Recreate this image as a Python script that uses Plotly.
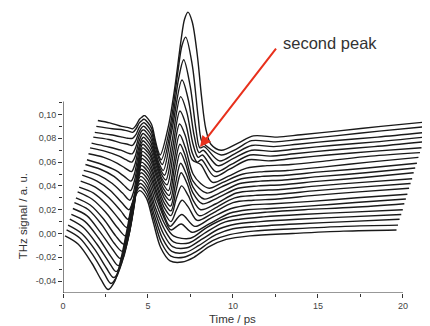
import plotly.graph_objects as go

# ---- data: THz waveforms (time in ps, signal in a.u.) ----
PULSE_TIMES = [
    [0.12, 0.9, 1.7, 2.25, 2.65, 3.05, 3.4, 3.75, 4.1, 4.5, 4.9, 5.3, 5.75, 6.3, 7.0, 7.7, 8.6, 9.6, 11.0, 13.5, 16.5, 19.62],
    [0.21, 1.0, 1.8, 2.4, 2.82, 3.2, 3.52, 3.85, 4.17, 4.52, 4.92, 5.33, 5.8, 6.35, 7.1, 7.85, 8.8, 9.8, 11.2, 13.6, 16.6, 19.71],
    [0.30, 1.1, 1.9, 2.55, 2.98, 3.33, 3.63, 3.94, 4.23, 4.53, 4.94, 5.36, 5.85, 6.4, 7.2, 8.0, 9.0, 10.0, 11.4, 13.7, 16.7, 19.80],
    [0.40, 1.2, 2.0, 2.7, 3.12, 3.45, 3.74, 4.02, 4.29, 4.55, 4.96, 5.4, 5.9, 6.45, 7.3, 8.15, 9.2, 10.2, 11.6, 13.8, 16.8, 19.90],
    [0.49, 1.3, 2.1, 2.8, 3.25, 3.56, 3.83, 4.09, 4.33, 4.56, 4.98, 5.43, 5.95, 6.5, 7.4, 8.3, 9.4, 10.4, 11.8, 14.0, 17.0, 19.99],
    [0.58, 1.4, 2.2, 2.9, 3.37, 3.66, 3.92, 4.16, 4.38, 4.58, 5.0, 5.46, 5.98, 6.5, 7.5, 8.45, 9.6, 10.6, 12.0, 14.2, 17.1, 20.08],
    [0.67, 1.5, 2.3, 3.0, 3.48, 3.76, 4.0, 4.23, 4.42, 4.59, 5.02, 5.48, 5.98, 6.35, 6.95, 7.6, 8.6, 9.8, 10.9, 12.2, 14.4, 17.2, 20.17],
    [0.76, 1.6, 2.4, 3.1, 3.58, 3.85, 4.08, 4.3, 4.47, 4.61, 5.04, 5.5, 5.95, 6.3, 6.98, 7.75, 8.7, 9.9, 11.0, 12.4, 14.6, 17.3, 20.26],
    [0.86, 1.7, 2.5, 3.2, 3.67, 3.93, 4.15, 4.35, 4.5, 4.62, 5.05, 5.5, 5.95, 6.35, 6.68, 7.0, 7.38, 7.9, 8.8, 10.0, 11.2, 12.6, 14.8, 17.4, 20.36],
    [0.95, 1.8, 2.6, 3.3, 3.75, 4.0, 4.21, 4.4, 4.54, 4.64, 5.07, 5.5, 5.95, 6.35, 6.68, 6.98, 7.36, 8.0, 8.9, 10.1, 11.3, 12.7, 14.9, 17.5, 20.45],
    [1.04, 1.9, 2.7, 3.4, 3.82, 4.06, 4.26, 4.44, 4.57, 4.65, 5.08, 5.5, 5.95, 6.35, 6.65, 6.95, 7.3, 7.65, 8.1, 9.0, 10.2, 11.4, 12.8, 15.0, 17.6, 20.54],
    [1.13, 2.0, 2.8, 3.45, 3.88, 4.11, 4.3, 4.47, 4.59, 4.67, 5.1, 5.5, 5.95, 6.33, 6.62, 6.92, 7.25, 7.65, 8.2, 9.1, 10.3, 11.5, 12.9, 15.1, 17.7, 20.63],
    [1.22, 2.1, 2.9, 3.5, 3.93, 4.15, 4.34, 4.5, 4.61, 4.68, 5.1, 5.5, 5.92, 6.3, 6.6, 6.9, 7.22, 7.65, 8.3, 9.2, 10.4, 11.6, 13.0, 15.2, 17.8, 20.72],
    [1.32, 2.2, 3.0, 3.55, 3.97, 4.18, 4.37, 4.53, 4.63, 4.70, 5.12, 5.5, 5.9, 6.25, 6.55, 6.88, 7.2, 7.65, 8.45, 9.3, 10.5, 11.7, 13.1, 15.3, 17.9, 20.82],
    [1.41, 2.3, 3.1, 3.6, 4.0, 4.2, 4.39, 4.55, 4.65, 4.71, 5.13, 5.5, 5.88, 6.2, 6.52, 6.86, 7.2, 7.65, 8.1, 8.6, 9.4, 10.6, 11.8, 13.2, 15.4, 18.0, 20.91],
    [1.50, 2.4, 3.2, 3.65, 4.03, 4.23, 4.42, 4.58, 4.67, 4.73, 5.14, 5.5, 5.82, 6.12, 6.48, 6.86, 7.2, 7.6, 8.1, 8.8, 9.7, 10.8, 12.0, 13.4, 15.5, 18.1, 21.00],
    [1.59, 2.5, 3.3, 3.7, 4.05, 4.25, 4.44, 4.6, 4.69, 4.74, 5.15, 5.48, 5.78, 6.05, 6.45, 6.88, 7.22, 7.6, 7.9, 8.15, 8.9, 9.8, 10.9, 12.1, 13.5, 15.6, 18.2, 21.09],
    [1.68, 2.6, 3.4, 3.75, 4.07, 4.27, 4.46, 4.62, 4.71, 4.76, 5.16, 5.46, 5.73, 5.98, 6.42, 6.92, 7.28, 7.65, 7.95, 8.2, 9.0, 9.9, 11.0, 12.2, 13.6, 15.7, 18.3, 21.18],
    [1.78, 2.7, 3.45, 3.8, 4.08, 4.28, 4.47, 4.63, 4.72, 4.77, 5.17, 5.45, 5.68, 5.9, 6.4, 7.0, 7.38, 7.72, 8.0, 8.25, 9.1, 10.0, 11.1, 12.3, 13.7, 15.8, 18.4, 21.28],
    [1.87, 2.8, 3.5, 3.82, 4.09, 4.29, 4.48, 4.64, 4.73, 4.79, 5.18, 5.44, 5.64, 5.84, 6.4, 6.8, 7.1, 7.48, 7.82, 8.05, 8.3, 9.2, 10.1, 11.1, 12.4, 13.8, 15.9, 18.5, 21.37],
    [1.96, 2.9, 3.55, 3.85, 4.10, 4.3, 4.49, 4.65, 4.74, 4.80, 5.19, 5.43, 5.6, 5.78, 6.3, 6.75, 7.0, 7.22, 7.6, 7.95, 8.15, 8.4, 9.3, 10.2, 11.1, 12.5, 13.9, 16.0, 18.6, 21.46],
    [2.05, 2.75, 3.45, 3.85, 4.10, 4.3, 4.5, 4.66, 4.76, 4.82, 5.2, 5.42, 5.58, 5.72, 6.2, 6.6, 6.95, 7.15, 7.35, 7.6, 7.9, 8.15, 8.4, 8.7, 9.3, 10.3, 11.2, 12.6, 14.0, 16.1, 18.7, 21.55],
]

PULSE_SIGNALS = [
    [-0.002, -0.009, -0.025, -0.039, -0.047, -0.040, -0.022, 0.002, 0.026, 0.036, 0.030, 0.010, -0.012, -0.023, -0.024, -0.020, -0.011, -0.005, -0.002, 0.000, 0.002, 0.003],
    [0.003, -0.004, -0.019, -0.033, -0.042, -0.035, -0.017, 0.007, 0.029, 0.039, 0.033, 0.013, -0.008, -0.019, -0.020, -0.015, -0.006, -0.001, 0.002, 0.004, 0.006, 0.007],
    [0.007, 0.000, -0.014, -0.029, -0.037, -0.030, -0.012, 0.012, 0.033, 0.042, 0.036, 0.016, -0.004, -0.015, -0.016, -0.010, -0.001, 0.004, 0.006, 0.008, 0.010, 0.012],
    [0.012, 0.005, -0.009, -0.024, -0.032, -0.025, -0.007, 0.016, 0.036, 0.045, 0.039, 0.019, 0.000, -0.011, -0.012, -0.005, 0.004, 0.008, 0.010, 0.012, 0.014, 0.016],
    [0.016, 0.010, -0.004, -0.019, -0.027, -0.020, -0.003, 0.019, 0.039, 0.048, 0.042, 0.022, 0.004, -0.007, -0.008, 0.000, 0.009, 0.012, 0.014, 0.016, 0.018, 0.020],
    [0.021, 0.015, 0.001, -0.013, -0.021, -0.014, 0.002, 0.024, 0.043, 0.051, 0.045, 0.026, 0.008, -0.002, -0.004, 0.005, 0.013, 0.016, 0.018, 0.020, 0.022, 0.025],
    [0.026, 0.020, 0.007, -0.008, -0.015, -0.008, 0.008, 0.030, 0.047, 0.054, 0.048, 0.030, 0.012, 0.003, 0.008, 0.001, 0.008, 0.017, 0.020, 0.021, 0.023, 0.026, 0.029],
    [0.030, 0.024, 0.012, -0.002, -0.009, -0.002, 0.014, 0.035, 0.051, 0.057, 0.051, 0.033, 0.015, 0.006, 0.016, 0.006, 0.013, 0.021, 0.024, 0.025, 0.027, 0.030, 0.033],
    [0.035, 0.029, 0.018, 0.005, -0.002, 0.005, 0.020, 0.040, 0.054, 0.060, 0.054, 0.036, 0.018, 0.010, 0.020, 0.028, 0.022, 0.011, 0.017, 0.026, 0.028, 0.029, 0.032, 0.035, 0.038],
    [0.039, 0.034, 0.024, 0.012, 0.005, 0.012, 0.027, 0.046, 0.058, 0.063, 0.057, 0.040, 0.022, 0.015, 0.030, 0.040, 0.032, 0.015, 0.021, 0.030, 0.032, 0.033, 0.036, 0.039, 0.042],
    [0.044, 0.039, 0.030, 0.019, 0.012, 0.019, 0.034, 0.052, 0.062, 0.066, 0.060, 0.043, 0.026, 0.019, 0.036, 0.051, 0.042, 0.028, 0.020, 0.025, 0.034, 0.036, 0.037, 0.040, 0.043, 0.046],
    [0.049, 0.044, 0.036, 0.026, 0.020, 0.027, 0.041, 0.058, 0.066, 0.069, 0.063, 0.047, 0.030, 0.023, 0.042, 0.059, 0.050, 0.034, 0.025, 0.030, 0.038, 0.040, 0.041, 0.044, 0.047, 0.051],
    [0.053, 0.049, 0.042, 0.034, 0.028, 0.035, 0.049, 0.064, 0.070, 0.072, 0.066, 0.050, 0.034, 0.028, 0.050, 0.068, 0.058, 0.039, 0.029, 0.034, 0.042, 0.044, 0.045, 0.048, 0.051, 0.055],
    [0.058, 0.054, 0.048, 0.041, 0.036, 0.043, 0.056, 0.069, 0.074, 0.075, 0.068, 0.053, 0.038, 0.032, 0.055, 0.075, 0.065, 0.044, 0.034, 0.039, 0.046, 0.048, 0.049, 0.052, 0.055, 0.059],
    [0.062, 0.058, 0.053, 0.048, 0.044, 0.050, 0.063, 0.074, 0.077, 0.078, 0.071, 0.056, 0.042, 0.036, 0.060, 0.083, 0.072, 0.050, 0.042, 0.038, 0.043, 0.050, 0.052, 0.053, 0.056, 0.060, 0.064],
    [0.067, 0.064, 0.059, 0.055, 0.052, 0.058, 0.070, 0.078, 0.080, 0.081, 0.074, 0.059, 0.046, 0.041, 0.066, 0.092, 0.082, 0.062, 0.058, 0.043, 0.048, 0.055, 0.057, 0.058, 0.061, 0.065, 0.068],
    [0.072, 0.069, 0.065, 0.062, 0.060, 0.065, 0.076, 0.082, 0.084, 0.084, 0.077, 0.062, 0.050, 0.045, 0.072, 0.103, 0.092, 0.068, 0.060, 0.062, 0.048, 0.054, 0.062, 0.061, 0.063, 0.066, 0.069, 0.072],
    [0.076, 0.073, 0.070, 0.068, 0.067, 0.072, 0.081, 0.086, 0.087, 0.087, 0.080, 0.065, 0.054, 0.049, 0.078, 0.115, 0.102, 0.075, 0.064, 0.066, 0.052, 0.058, 0.066, 0.065, 0.067, 0.070, 0.073, 0.077],
    [0.081, 0.079, 0.076, 0.075, 0.074, 0.078, 0.085, 0.089, 0.090, 0.090, 0.083, 0.068, 0.058, 0.053, 0.086, 0.129, 0.112, 0.082, 0.068, 0.070, 0.057, 0.063, 0.070, 0.069, 0.071, 0.074, 0.077, 0.081],
    [0.085, 0.083, 0.081, 0.080, 0.080, 0.083, 0.089, 0.092, 0.093, 0.093, 0.086, 0.072, 0.063, 0.058, 0.092, 0.130, 0.146, 0.124, 0.088, 0.072, 0.073, 0.061, 0.067, 0.074, 0.073, 0.075, 0.078, 0.081, 0.085],
    [0.090, 0.088, 0.087, 0.086, 0.085, 0.088, 0.093, 0.095, 0.096, 0.096, 0.089, 0.076, 0.067, 0.062, 0.090, 0.135, 0.158, 0.165, 0.142, 0.098, 0.078, 0.074, 0.066, 0.071, 0.078, 0.077, 0.079, 0.082, 0.086, 0.090],
    [0.095, 0.093, 0.090, 0.089, 0.088, 0.091, 0.096, 0.098, 0.099, 0.099, 0.092, 0.079, 0.070, 0.066, 0.090, 0.125, 0.163, 0.180, 0.186, 0.178, 0.150, 0.115, 0.088, 0.075, 0.070, 0.076, 0.082, 0.081, 0.083, 0.086, 0.090, 0.094],
]

X_TICKS = [0, 5, 10, 15, 20]
X_TICK_TEXT = ["0", "5", "10", "15", "20"]
X_MINOR = [2.5, 7.5, 12.5, 17.5]
Y_TICKS = [-0.04, -0.02, 0.0, 0.02, 0.04, 0.06, 0.08, 0.10]
Y_TICK_TEXT = ["-0,04", "-0,02", "0,00", "0,02", "0,04", "0,06", "0,08", "0,10"]
Y_MINOR = [-0.03, -0.01, 0.01, 0.03, 0.05, 0.07, 0.09, 0.11]

X_AXIS_SPAN = [0, 20]
Y_AXIS_SPAN = [-0.05, 0.111]

ARROW_TIP = (8.06, 0.0727)
ARROW_TAIL = (12.6, 0.1567)
LABEL = "second peak"

FONT = "Liberation Sans, Arial, Helvetica, sans-serif"

fig = go.Figure()
for t, s in zip(PULSE_TIMES, PULSE_SIGNALS):
    n = min(len(t), len(s))
    fig.add_trace(go.Scatter(
        x=t[:n], y=s[:n], mode="lines",
        line=dict(color="#1a1a1a", width=1.4, shape="spline", smoothing=0.9),
        hoverinfo="skip", showlegend=False,
    ))

axis_col = "#333333"
# the page body adds an 8 px offset, so the figure is 8 px smaller in each direction
fig.update_layout(
    width=422, height=318,
    margin=dict(l=55, r=0, t=0, b=33),
    paper_bgcolor="white", plot_bgcolor="white",
    font=dict(family=FONT, color="#444444", size=9),
    showlegend=False,
    xaxis=dict(
        range=[0, 21.59], showgrid=False, zeroline=False, showline=False,
        tickmode="array", tickvals=X_TICKS, ticktext=X_TICK_TEXT,
        ticks="outside", ticklen=4, tickwidth=1, tickcolor=axis_col,
        minor=dict(tickmode="array", tickvals=X_MINOR, ticks="outside",
                   ticklen=3, tickwidth=1, tickcolor=axis_col),
        tickfont=dict(size=9, color="#444444", family=FONT),
    ),
    yaxis=dict(
        range=[-0.05, 0.1895], showgrid=False, zeroline=False, showline=False,
        tickmode="array", tickvals=Y_TICKS, ticktext=Y_TICK_TEXT,
        ticks="outside", ticklen=4, tickwidth=1, tickcolor=axis_col,
        minor=dict(tickmode="array", tickvals=Y_MINOR, ticks="outside",
                   ticklen=3, tickwidth=1, tickcolor=axis_col),
        tickfont=dict(size=9, color="#444444", family=FONT),
    ),
)

# axis lines limited to the drawn frame
fig.add_shape(type="line", xref="x", yref="y",
              x0=X_AXIS_SPAN[0], x1=X_AXIS_SPAN[0], y0=Y_AXIS_SPAN[0], y1=Y_AXIS_SPAN[1],
              line=dict(color=axis_col, width=1.2), layer="above")
fig.add_shape(type="line", xref="x", yref="y",
              x0=X_AXIS_SPAN[0], x1=X_AXIS_SPAN[1], y0=Y_AXIS_SPAN[0], y1=Y_AXIS_SPAN[0],
              line=dict(color=axis_col, width=1.2), layer="above")

# axis titles
fig.add_annotation(text="Time / ps", xref="x", yref="paper", x=10, y=0,
                   yshift=-26, showarrow=False, yanchor="middle",
                   font=dict(size=11.5, color="#333333", family=FONT))
fig.add_annotation(text="THz signal / a. u.", xref="paper", yref="y",
                   x=0, xshift=-40, y=0.0145, textangle=-90, showarrow=False,
                   xanchor="center", yanchor="middle",
                   font=dict(size=11.5, color="#333333", family=FONT))

# arrow and label
fig.add_annotation(x=ARROW_TIP[0], y=ARROW_TIP[1], ax=ARROW_TAIL[0], ay=ARROW_TAIL[1],
                   xref="x", yref="y", axref="x", ayref="y", text="",
                   showarrow=True, arrowhead=2, arrowsize=1.1, arrowwidth=2,
                   arrowcolor="#e8301c")
fig.add_annotation(text=LABEL, x=15.7, y=0.160, xref="x", yref="y", showarrow=False,
                   font=dict(size=16.5, color="#333333", family=FONT))

fig.write_html("out.html")
